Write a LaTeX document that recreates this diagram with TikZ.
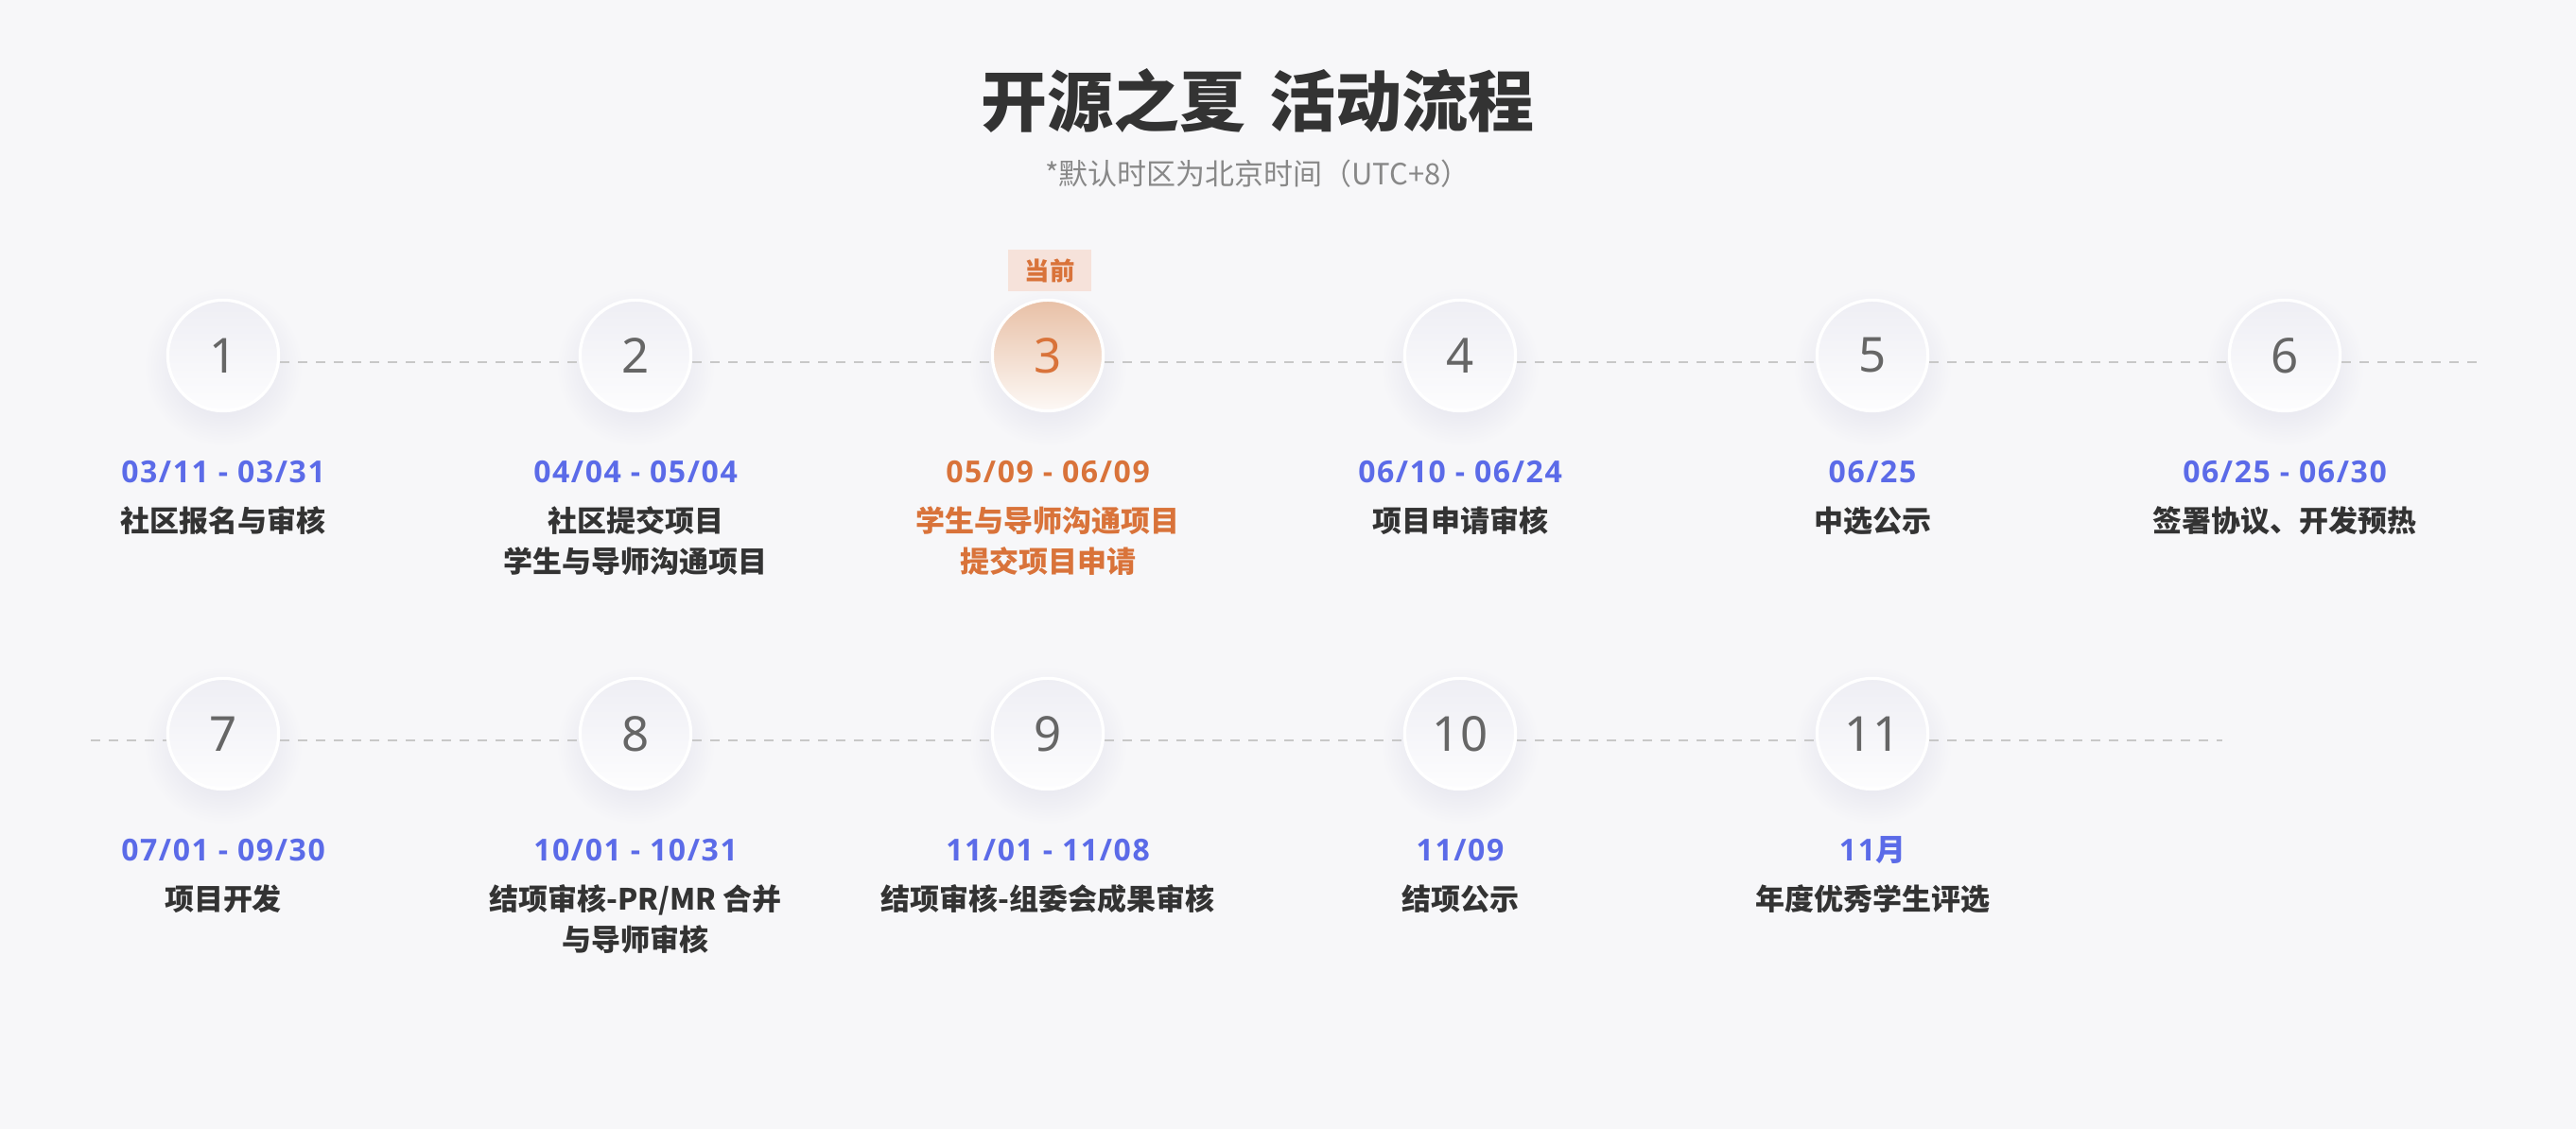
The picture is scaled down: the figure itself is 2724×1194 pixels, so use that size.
\documentclass[tikz,border=0pt]{standalone}
\usepackage{fontspec}
\setmainfont{Noto Sans}
\newfontfamily\cjk{Noto Sans CJK SC}
\newfontfamily\lat{Noto Sans}
\newfontfamily\datef{Open Sans}[LetterSpace=5]
\usetikzlibrary{backgrounds}
\definecolor{bg}{HTML}{F7F7F9}
\definecolor{titlec}{HTML}{333333}
\definecolor{subc}{HTML}{888888}
\definecolor{descc}{HTML}{333333}
\definecolor{datec}{HTML}{5B6BE8}
\definecolor{orangec}{HTML}{D9733A}
\definecolor{numc}{HTML}{666666}
\definecolor{ctop}{HTML}{EEEEF4}
\definecolor{cbot}{HTML}{FDFDFE}
\definecolor{otop}{HTML}{E8C0A6}
\definecolor{obot}{HTML}{FDF9F6}
\definecolor{shd}{HTML}{EAEAF1}
\definecolor{dashc}{HTML}{C8C8C8}
\definecolor{badgec}{HTML}{F6E2DA}
\pgfdeclareradialshading{softshadow}{\pgfpoint{0bp}{0bp}}{color(0bp)=(shd); color(14bp)=(shd); color(25bp)=(bg); color(50bp)=(bg)}
\begin{document}
\begin{tikzpicture}[x=0.25pt,y=-0.25pt,
  stepcircle/.style={circle, minimum size=29.3pt, inner sep=0pt, draw=white, line width=0.8pt,
    top color=ctop, bottom color=cbot, text=numc, font=\lat\fontsize{12.75pt}{12.75pt}\selectfont},
  curcircle/.style={stepcircle, top color=otop, bottom color=obot, text=orangec},
  datetext/.style={inner sep=0pt, text=datec, font=\datef\bfseries\fontsize{8pt}{8pt}\selectfont},
  desctext/.style={inner sep=0pt, align=center, text=descc, font=\cjk\bfseries\fontsize{7.75pt}{10.75pt}\selectfont},
  dashline/.style={draw=dashc, line width=0.5pt, dash pattern=on 2.5pt off 2.25pt},
  badge/.style={fill=badgec, minimum width=22pt, minimum height=11pt, inner sep=0pt, text=orangec,
    font=\cjk\bfseries\fontsize{6.6pt}{6.6pt}\selectfont}
]
\useasboundingbox (0,0) rectangle (2724,1194);
% title
\node[inner sep=0pt, text=titlec, font=\cjk\bfseries\fontsize{17.5pt}{17.5pt}\selectfont] (title) at (1330,107) {开源之夏\hspace{0.12em} 活动流程};
\node[inner sep=0pt, text=subc, font=\cjk\fontsize{7.75pt}{7.75pt}\selectfont] (sub) at (1330,184) {*默认时区为北京时间（UTC+8）};
% row 1 circles
\node[stepcircle] (c1) at (236,376) {1};
\node[stepcircle] (c2) at (672,376) {2};
\node[curcircle]  (c3) at (1108,376) {3};
\node[stepcircle] (c4) at (1544,376) {4};
\node[stepcircle] (c5) at (1980,376) {5};
\node[stepcircle] (c6) at (2416,376) {6};
\node[badge] (now) at (1110,286) {当前};
% row 2 circles
\node[stepcircle] (c7) at (236,776) {7};
\node[stepcircle] (c8) at (672,776) {8};
\node[stepcircle] (c9) at (1108,776) {9};
\node[stepcircle] (c10) at (1544,776) {10};
\node[stepcircle] (c11) at (1980,776) {11};
\coordinate (e1) at (2627,383);
\coordinate (s2) at (96,783);
\coordinate (e2) at (2350,783);
% dates
\node[datetext] (d1) at (236,499) {03/11 - 03/31};
\node[datetext] (d2) at (672,499) {04/04 - 05/04};
\node[datetext, text=orangec] (d3) at (1108,499) {05/09 - 06/09};
\node[datetext] (d4) at (1544,499) {06/10 - 06/24};
\node[datetext] (d5) at (1980,499) {06/25};
\node[datetext] (d6) at (2416,499) {06/25 - 06/30};
\node[datetext] (d7) at (236,899) {07/01 - 09/30};
\node[datetext] (d8) at (672,899) {10/01 - 10/31};
\node[datetext] (d9) at (1108,899) {11/01 - 11/08};
\node[datetext] (d10) at (1544,899) {11/09};
\node[datetext] (d11) at (1980,899) {11{\cjk\bfseries 月}};
% descriptions
\node[desctext] (t1) at (236,551) {社区报名与审核};
\node[desctext] (t2) at (672,572.5) {社区提交项目\\学生与导师沟通项目};
\node[desctext, text=orangec] (t3) at (1108,572.5) {学生与导师沟通项目\\提交项目申请};
\node[desctext] (t4) at (1544,551) {项目申请审核};
\node[desctext] (t5) at (1980,551) {中选公示};
\node[desctext] (t6) at (2416,551) {签署协议、开发预热};
\node[desctext] (t7) at (236,951) {项目开发};
\node[desctext] (t8) at (672,972.5) {结项审核-PR/MR 合并\\与导师审核};
\node[desctext] (t9) at (1108,951) {结项审核-组委会成果审核};
\node[desctext] (t10) at (1544,951) {结项公示};
\node[desctext] (t11) at (1980,951) {年度优秀学生评选};
\begin{pgfonlayer}{background}
  \fill[bg] (0,0) rectangle (2724,1194);
  \foreach \c in {c1,c2,c3,c4,c5,c6,c7,c8,c9,c10,c11}
    \shade[shading=softshadow] ([yshift=-3pt]\c.center) circle (21pt);
  \draw[dashline] ([yshift=-1.75pt]c1.east) -- ([yshift=-1.75pt]c2.west);
  \draw[dashline] ([yshift=-1.75pt]c2.east) -- ([yshift=-1.75pt]c3.west);
  \draw[dashline] ([yshift=-1.75pt]c3.east) -- ([yshift=-1.75pt]c4.west);
  \draw[dashline] ([yshift=-1.75pt]c4.east) -- ([yshift=-1.75pt]c5.west);
  \draw[dashline] ([yshift=-1.75pt]c5.east) -- ([yshift=-1.75pt]c6.west);
  \draw[dashline] ([yshift=-1.75pt]c6.east) -- (e1);
  \draw[dashline] (s2) -- ([yshift=-1.75pt]c7.west);
  \draw[dashline] ([yshift=-1.75pt]c7.east) -- ([yshift=-1.75pt]c8.west);
  \draw[dashline] ([yshift=-1.75pt]c8.east) -- ([yshift=-1.75pt]c9.west);
  \draw[dashline] ([yshift=-1.75pt]c9.east) -- ([yshift=-1.75pt]c10.west);
  \draw[dashline] ([yshift=-1.75pt]c10.east) -- ([yshift=-1.75pt]c11.west);
  \draw[dashline] ([yshift=-1.75pt]c11.east) -- (e2);
\end{pgfonlayer}
\end{tikzpicture}
\end{document}
